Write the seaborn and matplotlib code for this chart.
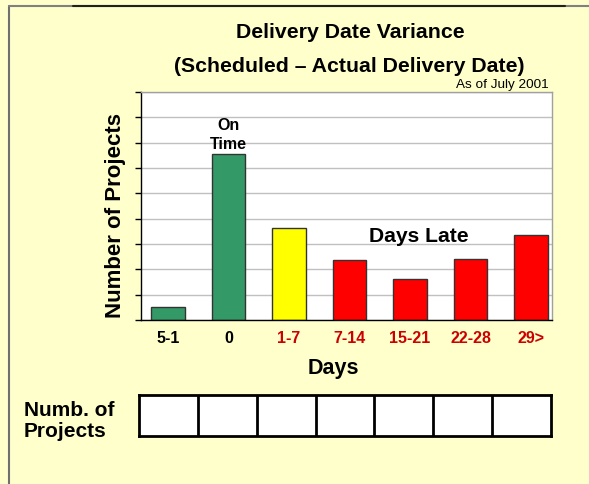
import numpy as np
import pandas as pd
import matplotlib
matplotlib.use('Agg')
import matplotlib.pyplot as plt
import seaborn as sns

# dữ liệu
days = ['5-1', '0', '1-7', '7-14', '15-21', '22-28', '29>']
projects = [0.5, 6.55, 3.65, 2.35, 1.6, 2.4, 3.35]
bar_colors = ['#339966', '#339966', '#FFFF00', '#FF0000', '#FF0000', '#FF0000', '#FF0000']
label_colors = ['black', 'black', '#CC0000', '#CC0000', '#CC0000', '#CC0000', '#CC0000']
grid_steps = 9

df = pd.DataFrame({'days': days, 'projects': projects})

sns.set_style('white')
plt.rcParams['font.family'] = ['Liberation Sans', 'DejaVu Sans']
plt.rcParams['text.color'] = 'black'

W, H = 589, 485
fig = plt.figure(figsize=(W / 100, H / 100), dpi=100)
fig.patch.set_facecolor('#FFFFCC')

def px(x, y):
    return x / W, 1 - y / H

# khung viền
fig.add_artist(plt.Line2D([9 / W, 9 / W], [0, 1 - 7 / H], color='#707070', lw=1.5))
fig.add_artist(plt.Line2D([9 / W, 1], [1 - 7 / H, 1 - 7 / H], color='#808080', lw=1.5))
fig.add_artist(plt.Line2D([73 / W, 565 / W], [1 - 7 / H, 1 - 7 / H], color='#202020', lw=1.5))

# biểu đồ cột
l, b = px(141, 321)
r, t = px(552, 93)
ax = fig.add_axes([l, b, r - l, t - b])
ax.set_facecolor('white')
sns.barplot(data=df, x='days', y='projects', hue='days', palette=bar_colors,
            saturation=1, legend=False, width=0.56, edgecolor='#333333',
            linewidth=1, ax=ax)
ax.set_xlim(-0.446, 6.347)
ax.set_ylim(0, grid_steps)
ax.set_yticks(np.arange(0, grid_steps + 1))
ax.set_yticklabels([])
ax.yaxis.grid(True, color='#C0C0C0', lw=1)
ax.set_axisbelow(True)
ax.tick_params(axis='y', left=True, length=4, width=1, color='black')
ax.tick_params(axis='x', bottom=False, pad=3.5)
ax.set_xlabel('')
ax.set_ylabel('')
for lab, c in zip(ax.get_xticklabels(), label_colors):
    lab.set_color(c)
    lab.set_fontweight('bold')
    lab.set_fontsize(11.5)
ax.spines['left'].set_color('black')
ax.spines['bottom'].set_color('black')
ax.spines['top'].set_color('#A0A0A0')
ax.spines['right'].set_color('#A0A0A0')
for s in ax.spines.values():
    s.set_linewidth(1)

ax.text(1, projects[1] + 0.12, 'On\nTime', ha='center', va='bottom', fontsize=11.5,
        fontweight='bold', linespacing=1.35)
ax.text(4.15, 3.35, 'Days Late', ha='center', va='center', fontsize=15.2,
        fontweight='bold')

# tiêu đề
fig.text(*px(350, 33), 'Delivery Date Variance', ha='center', va='center',
         fontsize=15.3, fontweight='bold')
fig.text(*px(349, 67), '(Scheduled \u2013 Actual Delivery Date)', ha='center',
         va='center', fontsize=15.3, fontweight='bold')
fig.text(*px(549, 85), 'As of July 2001', ha='right', va='center', fontsize=9.7)
fig.text(*px(115, 216), 'Number of Projects', ha='center', va='center',
         rotation=90, fontsize=16, fontweight='bold')
fig.text(*px(333, 369), 'Days', ha='center', va='center', fontsize=15.5,
         fontweight='bold')
fig.text(*px(24, 421), 'Numb. of\nProjects', ha='left', va='center',
         fontsize=15, fontweight='bold', linespacing=1.15)

# bảng số dự án (ô trống)
l2, b2 = px(139, 437)
r2, t2 = px(551, 396)
tab = fig.add_axes([l2, b2, r2 - l2, t2 - b2])
tab.set_facecolor('white')
tab.set_xlim(0, len(days))
tab.set_ylim(0, 1)
tab.vlines(np.arange(1, len(days)), 0, 1, color='black', lw=2)
tab.set_xticks([])
tab.set_yticks([])
for s in tab.spines.values():
    s.set_color('black')
    s.set_linewidth(2)

fig.savefig('out.png', dpi=100, facecolor=fig.get_facecolor())
